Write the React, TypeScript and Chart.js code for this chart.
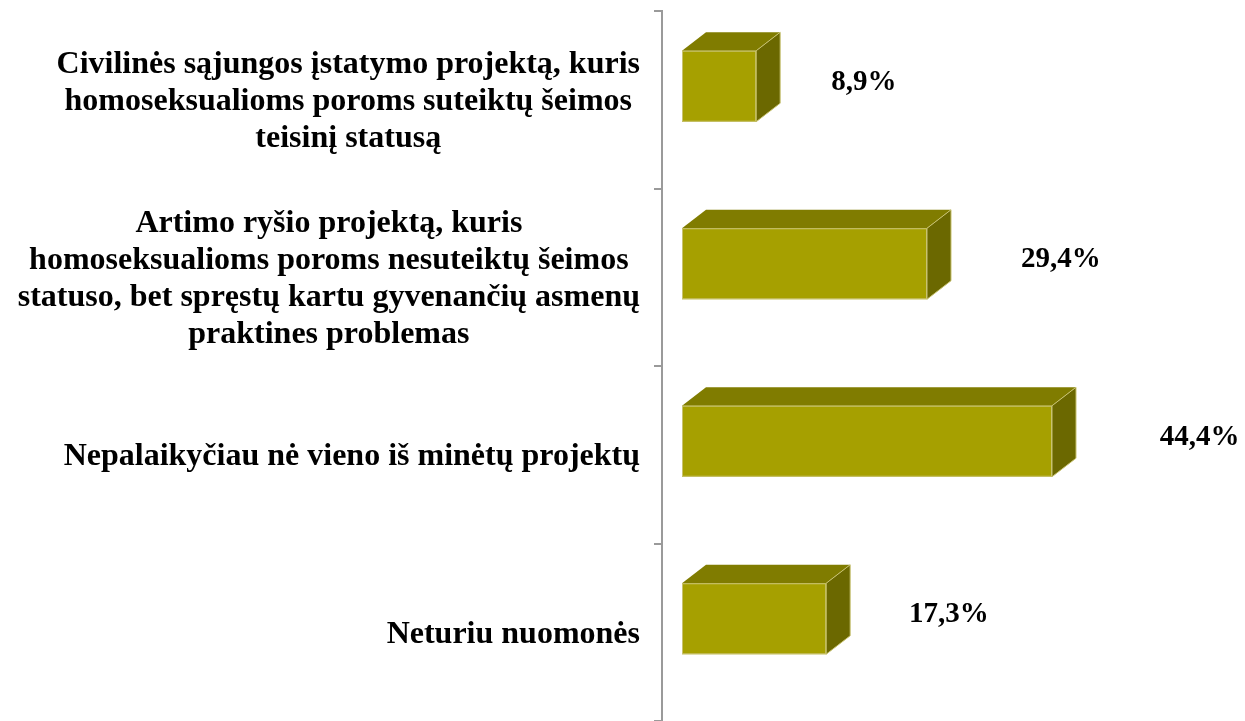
import React, { useEffect, useRef } from "react";
import { Chart, registerables } from "chart.js";

Chart.register(...registerables);

const categories: string[][] = [
  ["Civilinės sąjungos įstatymo projektą, kuris", "homoseksualioms poroms suteiktų šeimos", "teisinį statusą"],
  ["Artimo ryšio projektą, kuris", "homoseksualioms poroms nesuteiktų šeimos", "statuso, bet spręstų kartu gyvenančių asmenų", "praktines problemas"],
  ["Nepalaikyčiau nė vieno iš minėtų projektų"],
  ["Neturiu nuomonės"],
];
const values: number[] = [8.9, 29.4, 44.4, 17.3];

const FRONT = "#A6A000";
const TOPC = "#807C00";
const SIDE = "#6B6800";
const EDGE = "#C8C270";
const DX = 24;
const DY = 18.5;
const LIFT = 13.5;
const CAT_FONT = 'bold 32px "Liberation Serif"';
const VAL_FONT = 'bold 29px "Liberation Serif"';
const LINE_H = 37;

const fmt = (v: number) => v.toFixed(1).replace(".", ",") + "%";

const bar3d = {
  id: "bar3d",
  afterDatasetsDraw(chart: any) {
    const ctx: CanvasRenderingContext2D = chart.ctx;
    const meta = chart.getDatasetMeta(0);
    ctx.save();
    meta.data.forEach((el: any, i: number) => {
      const { x, y, base, height } = el.getProps(["x", "y", "base", "height"], true);
      const left = Math.min(base, x);
      const right = Math.max(base, x);
      const top = y - LIFT - height / 2;
      const bottom = top + height;
      ctx.lineWidth = 1;
      ctx.strokeStyle = EDGE;
      // top face
      ctx.beginPath();
      ctx.moveTo(left, top);
      ctx.lineTo(left + DX, top - DY);
      ctx.lineTo(right + DX, top - DY);
      ctx.lineTo(right, top);
      ctx.closePath();
      ctx.fillStyle = TOPC;
      ctx.fill();
      // side face
      ctx.beginPath();
      ctx.moveTo(right, top);
      ctx.lineTo(right + DX, top - DY);
      ctx.lineTo(right + DX, bottom - DY);
      ctx.lineTo(right, bottom);
      ctx.closePath();
      ctx.fillStyle = SIDE;
      ctx.fill();
      ctx.stroke();
      // front face
      ctx.fillStyle = FRONT;
      ctx.fillRect(left, top, right - left, height);
      ctx.strokeRect(left + 0.5, top + 0.5, right - left - 1, height - 1);
      // value label
      ctx.font = VAL_FONT;
      ctx.fillStyle = "#000";
      ctx.textAlign = "left";
      ctx.textBaseline = "middle";
      ctx.fillText(fmt(values[i]), right + 67 + 0.11 * (right - left), y - LIFT - 4);
    });
    ctx.restore();
  },
};

const catLabels = {
  id: "catLabels",
  afterDraw(chart: any) {
    const ctx: CanvasRenderingContext2D = chart.ctx;
    const ys = chart.scales.y;
    const rightEdge = ys.right - 8 - 14;
    ctx.save();
    ctx.font = CAT_FONT;
    ctx.fillStyle = "#000";
    ctx.textAlign = "center";
    ctx.textBaseline = "middle";
    categories.forEach((lines, i) => {
      const cy = ys.getPixelForValue(i) + 2;
      const w = Math.max(...lines.map((l) => ctx.measureText(l).width));
      const cx = rightEdge - w / 2;
      lines.forEach((l, j) => {
        ctx.fillText(l, cx, cy + (j - (lines.length - 1) / 2) * LINE_H);
      });
    });
    ctx.restore();
  },
};

export default function App() {
  const ref = useRef<HTMLCanvasElement>(null);
  useEffect(() => {
    document.body.style.margin = "0";
    const chart = new Chart(ref.current as HTMLCanvasElement, {
      type: "bar",
      data: {
        labels: categories.map((c) => c.join(" ")),
        datasets: [
          {
            data: values,
            backgroundColor: "rgba(0,0,0,0)",
            borderWidth: 0,
            barThickness: 71,
          },
        ],
      },
      options: {
        indexAxis: "y",
        animation: false,
        responsive: false,
        layout: { padding: { top: 11, right: 63, bottom: 0, left: 0 } },
        plugins: { legend: { display: false }, tooltip: { enabled: false } },
        scales: {
          x: { display: false, min: -2.4, max: 60 },
          y: {
            position: "left",
            offset: true,
            grid: {
              display: true,
              drawOnChartArea: false,
              drawTicks: true,
              tickLength: 8,
              offset: true,
              color: "#9A9A9A",
              lineWidth: 2,
            },
            border: { display: true, color: "#9A9A9A", width: 2 },
            ticks: { display: false },
            afterFit: (s: any) => {
              s.width = 662;
            },
          },
        },
      },
      plugins: [bar3d, catLabels],
    } as any);
    return () => chart.destroy();
  }, []);
  return <canvas ref={ref} width={1245} height={721} style={{ display: "block" }} />;
}
